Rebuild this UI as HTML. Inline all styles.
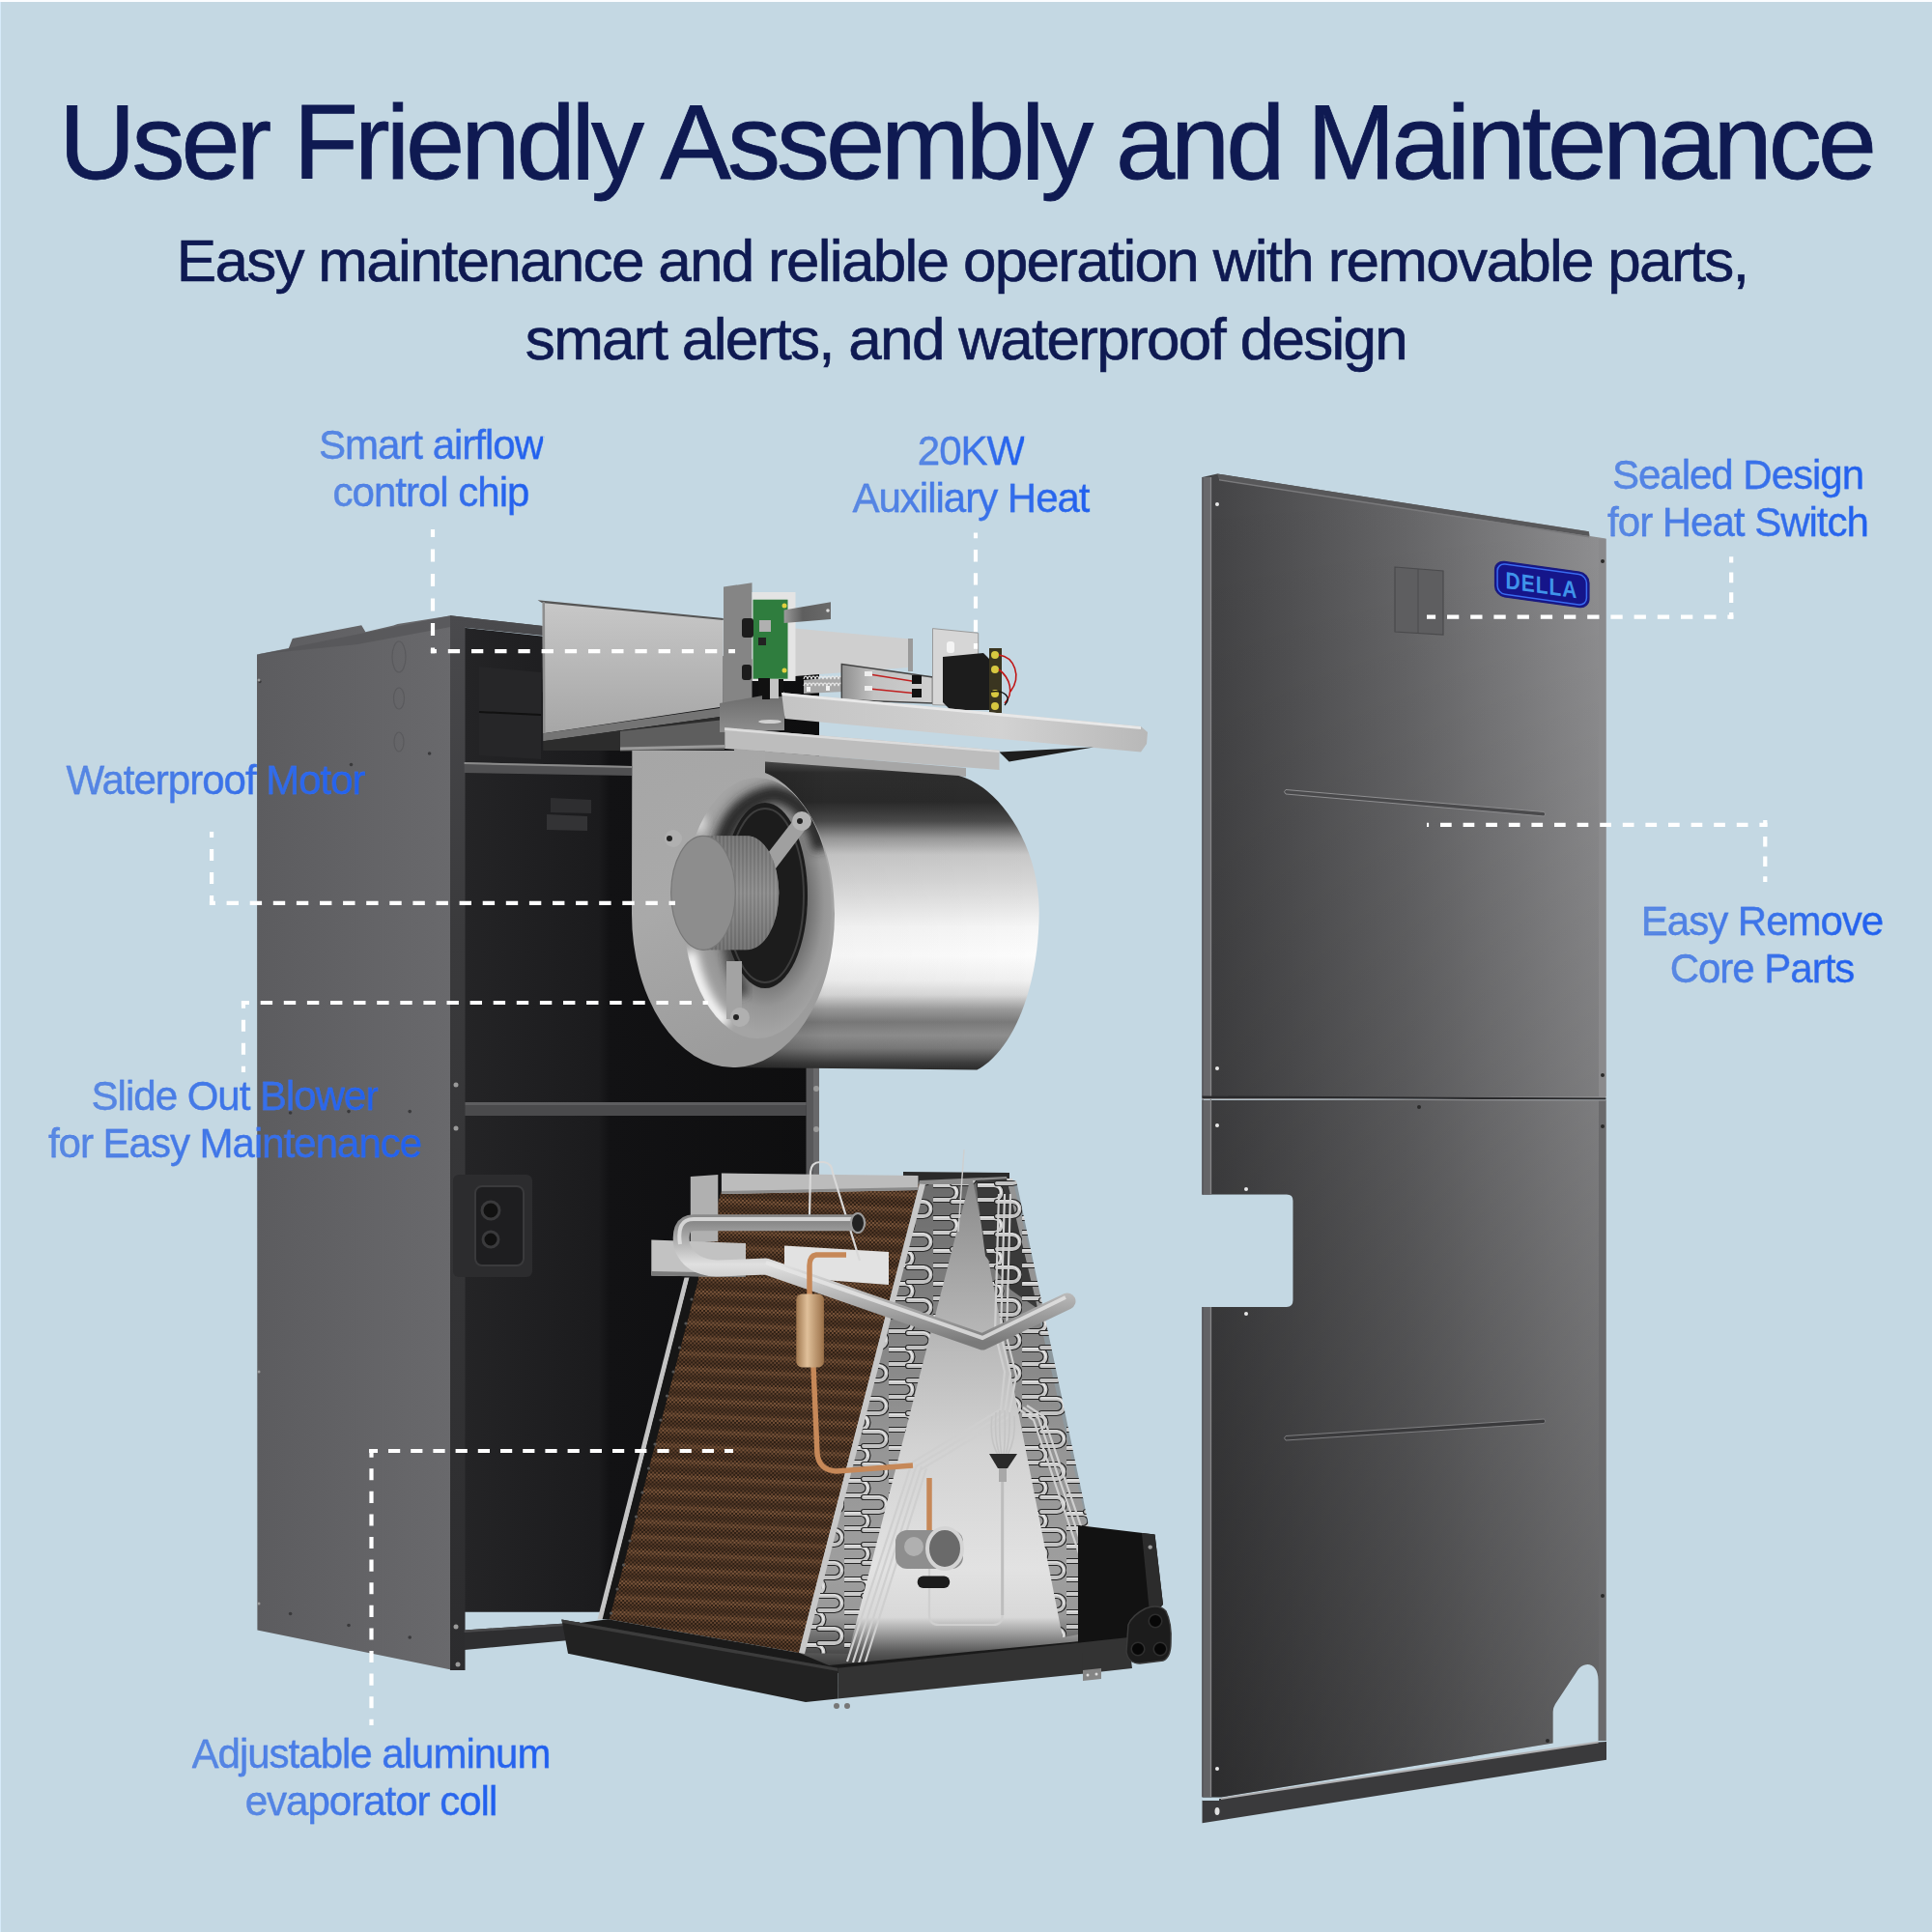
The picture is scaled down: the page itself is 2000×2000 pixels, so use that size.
<!DOCTYPE html>
<html><head><meta charset="utf-8">
<style>
html,body{margin:0;padding:0;}
body{width:2000px;height:2000px;overflow:hidden;background:#C4D8E3;position:relative;font-family:"Liberation Sans",sans-serif;}
#topline{position:absolute;left:0;top:0;width:2000px;height:2px;background:#fbfdff;}
#leftline{position:absolute;left:0;top:2px;width:1px;height:1998px;background:#d6eafa;}
svg#art{position:absolute;left:0;top:0;}
.t{position:absolute;white-space:nowrap;line-height:1;}
#title{color:#0F1A52;font-size:110px;letter-spacing:-4.0px;left:61px;top:91.5px;-webkit-text-stroke:0.8px #0F1A52;}
.sub{color:#0F1A52;font-size:62px;letter-spacing:-1.7px;width:2000px;text-align:center;left:0;-webkit-text-stroke:0.65px #0F1A52;}
.lab{font-size:42px;line-height:48.9px;letter-spacing:-1px;text-align:center;width:600px;}
.lab span{display:inline-block;background:linear-gradient(90deg,#5a89e2,#1f5ff0);-webkit-background-clip:text;background-clip:text;color:transparent;-webkit-text-stroke:0.3px rgba(60,115,230,0.85);}
</style></head>
<body>
<div id="topline"></div><div id="leftline"></div>
<svg id="art" width="2000" height="2000" viewBox="0 0 2000 2000">
<defs>
 <linearGradient id="gSide" x1="0" y1="0" x2="1" y2="0">
  <stop offset="0" stop-color="#5c5c5f"/><stop offset="1" stop-color="#69696c"/>
 </linearGradient>
 <linearGradient id="gInt" x1="0" y1="0" x2="1" y2="0">
  <stop offset="0" stop-color="#242426"/><stop offset="0.38" stop-color="#1b1b1d"/><stop offset="0.41" stop-color="#121214"/><stop offset="1" stop-color="#0e0e0f"/>
 </linearGradient>
 <linearGradient id="gFrame" x1="0" y1="0" x2="0" y2="1">
  <stop offset="0" stop-color="#4a4a4d"/><stop offset="0.3" stop-color="#3a3a3c"/><stop offset="1" stop-color="#2c2c2e"/>
 </linearGradient>
 <linearGradient id="gPanel" x1="0" y1="1" x2="1" y2="0">
  <stop offset="0" stop-color="#2b2b2d"/><stop offset="0.5" stop-color="#555557"/><stop offset="1" stop-color="#909092"/>
 </linearGradient>
 <linearGradient id="gPanelH" gradientUnits="userSpaceOnUse" x1="1250" y1="0" x2="1662" y2="0">
  <stop offset="0" stop-color="#434345"/><stop offset="0.5" stop-color="#666668"/><stop offset="1" stop-color="#919193"/>
 </linearGradient>
 <linearGradient id="gPanelV" gradientUnits="userSpaceOnUse" x1="0" y1="500" x2="0" y2="1860">
  <stop offset="0" stop-color="#000" stop-opacity="0"/><stop offset="0.44" stop-color="#000" stop-opacity="0.12"/><stop offset="1" stop-color="#000" stop-opacity="0.34"/>
 </linearGradient>
 <linearGradient id="gCyl" gradientUnits="userSpaceOnUse" x1="0" y1="788" x2="0" y2="1108"><stop offset="0.000" stop-color="#555555"/><stop offset="0.037" stop-color="#2e2e2e"/><stop offset="0.131" stop-color="#2a2a2a"/><stop offset="0.194" stop-color="#4a4a4a"/><stop offset="0.250" stop-color="#9a9a9a"/><stop offset="0.303" stop-color="#c8c8c8"/><stop offset="0.381" stop-color="#d4d4d4"/><stop offset="0.459" stop-color="#e4e4e4"/><stop offset="0.537" stop-color="#f6f6f6"/><stop offset="0.631" stop-color="#fcfcfc"/><stop offset="0.709" stop-color="#f0f0f0"/><stop offset="0.756" stop-color="#d8d8d8"/><stop offset="0.803" stop-color="#9a9a9a"/><stop offset="0.844" stop-color="#7a7a7a"/><stop offset="0.887" stop-color="#8e8e8e"/><stop offset="0.928" stop-color="#7a7a7a"/><stop offset="0.975" stop-color="#3e3e3e"/><stop offset="1.000" stop-color="#2a2a2a"/></linearGradient>
 <linearGradient id="gCylShade" x1="0" y1="0" x2="1" y2="0">
  <stop offset="0" stop-color="#000" stop-opacity="0.25"/><stop offset="0.3" stop-color="#000" stop-opacity="0.03"/><stop offset="1" stop-color="#000" stop-opacity="0"/>
 </linearGradient>
 <linearGradient id="gFront" x1="0" y1="0" x2="0.3" y2="1">
  <stop offset="0" stop-color="#a6a6a6"/><stop offset="0.5" stop-color="#a9a9a9"/><stop offset="1" stop-color="#9c9c9c"/>
 </linearGradient>
 <radialGradient id="gBell" cx="0.55" cy="0.48" r="0.5">
  <stop offset="0.55" stop-color="#6a6a6a"/><stop offset="0.8" stop-color="#969696"/><stop offset="1" stop-color="#a4a4a4"/>
 </radialGradient>
 <linearGradient id="gBellDark" x1="0.2" y1="0" x2="0.8" y2="1">
  <stop offset="0" stop-color="#1e1e1e"/><stop offset="0.35" stop-color="#4a4a4a"/><stop offset="0.6" stop-color="#8a8a8a"/><stop offset="1" stop-color="#7a7a7a"/>
 </linearGradient>
 <filter id="fBlur" x="-50%" y="-50%" width="200%" height="200%"><feGaussianBlur stdDeviation="5"/></filter>
 <linearGradient id="gMotor" x1="0" y1="0" x2="0" y2="1">
  <stop offset="0" stop-color="#6e6e6e"/><stop offset="0.5" stop-color="#9a9a9a"/><stop offset="1" stop-color="#6a6a6a"/>
 </linearGradient>
 <pattern id="pFins" width="4" height="4" patternUnits="userSpaceOnUse">
  <rect width="4" height="4" fill="#888"/><rect width="2" height="4" fill="#6a6a6a"/>
 </pattern>
 <linearGradient id="gSilverV" x1="0" y1="0" x2="0" y2="1">
  <stop offset="0" stop-color="#c8c8c8"/><stop offset="1" stop-color="#a6a6a6"/>
 </linearGradient>
 <linearGradient id="gTray" x1="0" y1="0" x2="1" y2="0">
  <stop offset="0" stop-color="#c4c4c4"/><stop offset="0.6" stop-color="#d2d2d2"/><stop offset="1" stop-color="#b8b8b8"/>
 </linearGradient>
 <pattern id="pCopper" width="4" height="16" patternUnits="userSpaceOnUse" patternTransform="rotate(3)">
  <rect width="4" height="16" fill="#2c1e14"/>
  <rect x="0" y="0" width="2" height="2" fill="#7a553a"/><rect x="2" y="2" width="2" height="2" fill="#7a553a"/>
  <rect x="0" y="4" width="2" height="2" fill="#704d34"/><rect x="2" y="6" width="2" height="2" fill="#664630"/>
  <rect x="0" y="8" width="2" height="2" fill="#5a3d29"/><rect x="2" y="10" width="2" height="2" fill="#553a27"/>
  <rect x="0" y="12" width="2" height="2" fill="#5c3f2b"/><rect x="2" y="14" width="2" height="2" fill="#6a4830"/>
  <rect x="2" y="0" width="2" height="2" fill="#3e2a1c"/><rect x="0" y="2" width="2" height="2" fill="#3e2a1c"/>
 </pattern>
 <pattern id="pBends" width="46" height="34" patternUnits="userSpaceOnUse">
  <rect width="46" height="34" fill="#3a3a3a" opacity="0.4"/>
  <g fill="none" stroke-linecap="round">
   <path d="M1,3 H17 A7.5,7.5 0 0 1 17,18 H1" stroke="#262626" stroke-width="6.2"/>
   <path d="M1,3 H17 A7.5,7.5 0 0 1 17,18 H1" stroke="#cacaca" stroke-width="3.8"/>
   <path d="M1,2 H17 A8.5,8.5 0 0 1 24,12" stroke="#f0f0f0" stroke-width="1.2"/>
   <path d="M20,20 H36 A7.5,7.5 0 0 1 36,35 H20" stroke="#262626" stroke-width="6.2"/>
   <path d="M20,20 H36 A7.5,7.5 0 0 1 36,35 H20" stroke="#c2c2c2" stroke-width="3.8"/>
   <path d="M20,19 H36 A8.5,8.5 0 0 1 43,29" stroke="#ececec" stroke-width="1.2"/>
   <path d="M20,-14 H36 A7.5,7.5 0 0 1 36,1 H20" stroke="#262626" stroke-width="6.2"/>
   <path d="M20,-14 H36 A7.5,7.5 0 0 1 36,1 H20" stroke="#c2c2c2" stroke-width="3.8"/>
  </g>
 </pattern>
 <linearGradient id="gEnd" x1="0" y1="0" x2="0" y2="1">
  <stop offset="0" stop-color="#8a8a8a"/><stop offset="0.3" stop-color="#b4b4b4"/><stop offset="0.55" stop-color="#d2d2d2"/><stop offset="0.8" stop-color="#e2e2e2"/><stop offset="0.9" stop-color="#d8d8d8"/><stop offset="0.97" stop-color="#5a5a5a"/><stop offset="1" stop-color="#3a3a3a"/>
 </linearGradient>
 <linearGradient id="gPipe" x1="0" y1="0" x2="0" y2="1">
  <stop offset="0" stop-color="#8a8a8a"/><stop offset="0.35" stop-color="#e0e0e0"/><stop offset="1" stop-color="#7a7a7a"/>
 </linearGradient>
 <linearGradient id="gBrass" x1="0" y1="0" x2="1" y2="0">
  <stop offset="0" stop-color="#a07850"/><stop offset="0.4" stop-color="#e0c09a"/><stop offset="1" stop-color="#9a7048"/>
 </linearGradient>
 <linearGradient id="gPan" x1="0" y1="0" x2="0" y2="1">
  <stop offset="0" stop-color="#3a3a3a"/><stop offset="1" stop-color="#262626"/>
 </linearGradient>
<linearGradient id="gHeat" x1="0" y1="0" x2="1" y2="0"><stop offset="0" stop-color="#8e8e8e"/><stop offset="0.35" stop-color="#c2c2c2"/><stop offset="1" stop-color="#cfcfcf"/></linearGradient>
 <linearGradient id="gBar" x1="0" y1="0" x2="1" y2="0"><stop offset="0" stop-color="#9a9a9a"/><stop offset="0.4" stop-color="#5e5e5e"/><stop offset="1" stop-color="#6a6a6a"/></linearGradient>
<clipPath id="cpBell"><ellipse cx="784" cy="940" rx="77" ry="135"/></clipPath>
 <radialGradient id="gBellN" cx="0.5" cy="0.5" r="0.5"><stop offset="0" stop-color="#a0a0a0"/><stop offset="1" stop-color="#a0a0a0"/></radialGradient>
<linearGradient id="gBase" x1="0" y1="0" x2="0" y2="1"><stop offset="0" stop-color="#6a6a6a"/><stop offset="1" stop-color="#8e8e8e"/></linearGradient>
</defs>
<!-- ===== RIGHT PANEL ===== -->
<g id="panel">
 <path id="pUp" d="M1244.5,494 L1260,490.5 L1644.8,550.3 L1646,555 L1662.5,557.6 L1662.5,1137 L1244.5,1136 Z" fill="url(#gPanelH)"/>
 <path id="pLo" d="M1244.5,1139 L1662.5,1139 L1662.5,1802 L1654.6,1802 L1654.6,1740 C1654.6,1728 1649,1723 1643.6,1723 C1638,1723 1634,1727 1631.5,1731.6 L1610,1764 Q1607.6,1768 1607.6,1772 L1607.6,1804.6 L1264,1860.6 L1244.5,1860.6 L1244.5,1353 L1332,1353 Q1338.5,1353 1338.5,1346 L1338.5,1243 Q1338.5,1236.6 1332,1236.6 L1244.5,1236.6 Z" fill="url(#gPanelH)"/>
 <path d="M1244.5,494 L1260,490.5 L1644.8,550.3 L1646,555 L1662.5,557.6 L1662.5,1135 L1244.5,1135 Z" fill="url(#gPanelV)"/>
 <path d="M1244.5,1139 L1662.5,1139 L1662.5,1802 L1654.6,1802 L1654.6,1740 C1654.6,1728 1649,1723 1643.6,1723 C1638,1723 1634,1727 1631.5,1731.6 L1610,1764 Q1607.6,1768 1607.6,1772 L1607.6,1804.6 L1264,1860.6 L1244.5,1860.6 L1244.5,1353 L1332,1353 Q1338.5,1353 1338.5,1346 L1338.5,1243 Q1338.5,1236.6 1332,1236.6 L1244.5,1236.6 Z" fill="url(#gPanelV)"/>
 <rect x="1244.5" y="494" width="9.8" height="641" fill="#68686b"/>
 <rect x="1244.5" y="1139" width="9.8" height="97.6" fill="#646467"/>
 <rect x="1244.5" y="1353" width="9.8" height="507" fill="#626265"/>
 <path d="M1252.8,494 h1.2 v742.6 h-1.2 Z M1252.8,1353 h1.2 v507 h-1.2 Z" fill="#858587"/>
 <path d="M1244.5,494 h1.2 v742.6 h-1.2 Z M1244.5,1353 h1.2 v507 h-1.2 Z" fill="#55555a"/>
 <rect x="1655" y="558" width="7.5" height="577" fill="#8a8a8c"/>
 <rect x="1655" y="1139" width="7.5" height="663" fill="#6a6a6c"/>
 <path d="M1260,490.5 L1644.8,550.3 L1645,555 L1262,496 Z" fill="#58585a"/>
 <path d="M1262,496 L1645,555 L1645,556.5 L1262,497.5 Z" fill="#7a7a7c"/>
 <path d="M1244.5,1134.5 L1662.5,1136.5 L1662.5,1138.5 L1244.5,1137 Z" fill="#2a2a2c"/>
 <path d="M1244.5,1137 L1662.5,1138.5 L1662.5,1139.7 L1244.5,1138.2 Z" fill="#8a8a8c"/>
 <path d="M1244.5,1863.5 L1264,1862 L1654.6,1803.4 L1663,1803 L1663,1821.7 L1244.5,1887.3 Z" fill="#3a3a3c"/>
 <path d="M1264,1861 L1654.6,1802.4 L1654.6,1804.4 L1264,1863 Z" fill="#b0b0b2"/>
 <path d="M1244.5,1861 L1262,1861 L1262,1864 L1244.5,1864 Z" fill="#c4d8e3"/>
 <path d="M1331,817.5 L1598.5,840.5 Q1601,843 1598.5,845 L1331,822 Q1328,819.7 1331,817.5 Z" fill="#4a4a4c" stroke="#8e8e90" stroke-width="1"/>
 <path d="M1331,1486.5 L1598.5,1469 Q1601,1471 1598.5,1473.5 L1331,1491 Q1328,1488.8 1331,1486.5 Z" fill="#3a3a3c" stroke="#7e7e80" stroke-width="1"/>
 <path d="M1444,587 L1494,591 L1494,657 L1444,654 Z" fill="#5e5e60" stroke="#4a4a4c" stroke-width="1.2"/>
 <path d="M1468,589 L1468,655" stroke="#4a4a4c" stroke-width="1"/>
 <g fill="#e8e8e8"><circle cx="1260" cy="522" r="2"/><circle cx="1260" cy="1106" r="2"/><circle cx="1260" cy="1165" r="2"/><circle cx="1290" cy="1231" r="2"/><circle cx="1290" cy="1360" r="2"/><circle cx="1260" cy="1831" r="2"/></g>
 <g fill="#2a2a2a"><circle cx="1659" cy="581" r="2"/><circle cx="1659" cy="1113" r="2"/><circle cx="1659" cy="1166" r="2"/><circle cx="1659" cy="1652" r="2"/><circle cx="1469" cy="1146" r="2"/><circle cx="1602" cy="1802" r="2"/></g>
 <ellipse cx="1260" cy="1875" rx="2.5" ry="4" fill="#e0e0e0"/>
 <!-- logo -->
 <g transform="matrix(1,0.138,0,1,1547.5,580)">
  <rect x="0" y="0" width="97.5" height="36.5" rx="10" fill="#15158a" stroke="#1b1b7e" stroke-width="1.2"/><rect x="2.6" y="2.6" width="92.3" height="31.3" rx="8" fill="none" stroke="#3a6cf0" stroke-width="1.5"/>
  <text x="48.5" y="27.5" text-anchor="middle" font-family="Liberation Sans" font-weight="bold" font-size="24.5" fill="#3f93ea" letter-spacing="1.2" textLength="75" lengthAdjust="spacingAndGlyphs">DELLA</text>
 </g>
</g>
<!-- ===== CABINET ===== -->
<g id="cabinet">
 <path d="M266,677.6 L298.7,671.4 L302.8,661 L374.2,647.2 L378.4,654.2 L407.3,647.6 L411.5,646 L467,637.3 L467,1728.6 L266.4,1687.6 Z" fill="url(#gSide)"/>
 <path d="M266,677.6 L466.4,637.3 L466.4,649 L370,667 Z" fill="#545457" opacity="0.7"/>
 <!-- interior -->
 <path d="M480,649.7 L848,690 L848,1668.8 L480,1668.8 Z" fill="url(#gInt)"/>
 <path d="M496,690 L560,696 L560,786 L496,782 Z" fill="#262628"/>
 <path d="M496,737 L560,740" stroke="#111" stroke-width="2"/>
 <rect x="480.6" y="1141" width="354" height="14" fill="#4a4a4c"/>
 <rect x="480.6" y="1141" width="354" height="3" fill="#5e5e60"/>
 <rect x="834.5" y="1090" width="13.5" height="578" fill="#58585a"/>
 <rect x="842" y="1090" width="6" height="578" fill="#68686a"/>
 <!-- top rail -->
 <path d="M466.4,637.3 L562,648 L562,658 L481.5,649.7 L481.5,1729 L466,1729 L466,637.3 Z" fill="url(#gFrame)"/>
 <path d="M466.4,637.3 L562,648 L562,652 L466.4,641 Z" fill="#4a4a4d"/>
 <path d="M570,826 L612,828 L612,842 L570,841 Z" fill="#2e2e30"/>
 <path d="M566,843 L608,845 L608,860 L566,859 Z" fill="#333335"/>
 <!-- e-box -->
 <rect x="469" y="1216" width="82" height="106" rx="6" fill="#2c2c2e"/>
 <rect x="492" y="1228" width="50" height="82" rx="7" fill="#1e1e20" stroke="#3a3a3c" stroke-width="2"/>
 <circle cx="508" cy="1253" r="9" fill="#111" stroke="#3a3a3c" stroke-width="3"/>
 <circle cx="508" cy="1283" r="8" fill="#111" stroke="#3a3a3c" stroke-width="3"/>
 <!-- bottom rail -->
 <path d="M480.6,1687.6 L600,1679.5 L600,1697 L480.6,1708 Z" fill="#2e2e30"/>
 <path d="M480.6,1687.6 L600,1679.5 L600,1682 L480.6,1690 Z" fill="#4a4a4c"/>
 <!-- side screws -->
 <g fill="#3a3a3c"><circle cx="300.6" cy="1152" r="1.8"/><circle cx="361" cy="1150.6" r="1.8"/><circle cx="424.2" cy="1150.6" r="1.8"/>
  <circle cx="300.6" cy="1670.5" r="1.8"/><circle cx="361" cy="1682.5" r="1.8"/><circle cx="424.2" cy="1695" r="1.8"/>
  <circle cx="363.5" cy="791.5" r="1.8"/><circle cx="444.6" cy="780" r="1.8"/><circle cx="269" cy="705.6" r="1.6"/></g>
 <g fill="none" stroke="#5a5a5d" stroke-width="1.2"><ellipse cx="413" cy="680" rx="7" ry="16"/><ellipse cx="413" cy="723" rx="5.5" ry="11"/><ellipse cx="413" cy="768" rx="5" ry="10"/></g>
 <!-- screws -->
 <g fill="#9a9a9a">
  <circle cx="472" cy="1123" r="2.5"/><circle cx="472" cy="1168" r="2.5"/><circle cx="472" cy="1684" r="2.5"/><circle cx="474" cy="1723" r="2.5"/>
  <circle cx="268" cy="704" r="1.5"/><circle cx="268" cy="1420" r="1.5"/><circle cx="268" cy="1660" r="1.5"/>
  <circle cx="845" cy="1127" r="3"/><circle cx="845" cy="1169" r="3"/>
 </g>
</g>
<!-- ===== CONTROL BOX ===== -->
<g id="ctrl">
 <path d="M556.6,621.2 L748.7,640.6 L748.7,731.6 L562.2,759.2 L561.5,623 Z" fill="url(#gSilverV)"/>
 <path d="M556.6,621.2 L748.7,640 L748.7,642 L561,624 Z" fill="#555"/>
 <path d="M561.5,623 L564,623.3 L564.5,759 L562.2,759.2 Z" fill="#8e8e8e"/>
 <path d="M562.2,759.2 L795.7,725.6 L795.7,735 L562.2,767.3 Z" fill="#747474"/>
 <path d="M562.2,767.3 L795.7,735 L795.7,745 L642,760 L642,777 L562.2,777 Z" fill="#2c2c2c"/>
 <path d="M642,757 L750,745 L750,776 L642,777.5 Z" fill="#5e5e5e"/>
 <path d="M642,773.5 L750,771 L750,774 L642,776.5 Z" fill="#9a9a9a"/>
 <path d="M480.6,789 L654,793 L654,803 L480.6,800 Z" fill="#505052"/>
 <path d="M480.6,789 L654,793 L654,795 L480.6,791 Z" fill="#8a8a8a"/>
 <!-- right part of box -->
 <path d="M822.5,650.6 L940.3,661.3 L940.3,691 L822.5,700 Z" fill="#cfcfcf"/>
 <rect x="940" y="661" width="5" height="34" fill="#9a9a9a"/>
 <!-- PCB bracket -->
 <path d="M749,607.5 L778.5,603.3 L778.5,727.5 L749,730.8 Z" fill="#858585"/>
 <rect x="778.5" y="613" width="45" height="92" fill="#e4e4e4"/>
 <rect x="779.5" y="620.7" width="36" height="82" fill="#2f7d3e"/>
 <rect x="786" y="642" width="12" height="12" fill="#b0b0b0"/>
 <rect x="785" y="660" width="8" height="8" fill="#222"/>
 <rect x="768" y="640" width="12" height="20" rx="3" fill="#1c1c1c"/>
 <rect x="768" y="688" width="10" height="16" rx="3" fill="#1c1c1c"/>
 <rect x="785" y="702" width="8" height="22" fill="#111"/>
 <rect x="793" y="703" width="14" height="20" fill="#bdbdbd"/>
 <circle cx="812" cy="627" r="2.5" fill="#e0d040"/><circle cx="812" cy="694" r="2.5" fill="#e0d040"/>
 <path d="M811.6,631.5 L860,623.2 L860,641 L811.6,645 Z" fill="url(#gBar)"/><circle cx="857" cy="632" r="1.8" fill="#ddd"/>
 <!-- heater -->
 <path d="M832,704 L873,700 L873,716 L832,718 Z" fill="#a8a8a8"/>
 <g fill="none" stroke="#e8e8e8" stroke-width="1.1">
  <path d="M832,703 c1,-4 3,-4 4,0 c1,-4 3,-4 4,0 c1,-4 3,-4 4,0 c1,-4 3,-4 4,0 c1,-4 3,-4 4,0 c1,-4 3,-4 4,0 c1,-4 3,-4 4,0 c1,-4 3,-4 4,0 c1,-4 3,-4 4,0 c1,-4 3,-4 4,0"/>
  <path d="M832,710 c1,-4 3,-4 4,0 c1,-4 3,-4 4,0 c1,-4 3,-4 4,0 c1,-4 3,-4 4,0 c1,-4 3,-4 4,0 c1,-4 3,-4 4,0 c1,-4 3,-4 4,0 c1,-4 3,-4 4,0 c1,-4 3,-4 4,0 c1,-4 3,-4 4,0"/>
 </g>
 <rect x="835" y="711" width="4" height="5" fill="#f2f2f2"/><rect x="855" y="710" width="4" height="5" fill="#f2f2f2"/>
 <path d="M871.3,687.6 L965.5,701 L965.5,728 L871.3,724.6 Z" fill="url(#gHeat)" stroke="#444" stroke-width="1.5"/>
 <path d="M900,698 L950,706 M900,713 L950,718" stroke="#c02020" stroke-width="1.5"/>
 <rect x="895" y="695" width="8" height="5" fill="#eee"/><rect x="895" y="710" width="8" height="5" fill="#eee"/>
 <rect x="944" y="699" width="10" height="9" fill="#111"/><rect x="944" y="713" width="10" height="9" fill="#111"/>
 <path d="M965.5,650.6 L1012.7,655.3 L1012.7,731.3 L965.5,729.6 Z" fill="#d6d6d6" stroke="#9a9a9a" stroke-width="1"/>
 <rect x="980" y="664" width="8" height="12" rx="3" fill="#f4f4f4"/>
 <path d="M976,680 L1018,676 L1026,684 L1026,735 L984,735 L976,727 Z" fill="#1c1c1c"/>
 <rect x="1024" y="671" width="13" height="67" fill="#3a3520"/>
 <circle cx="1030" cy="678" r="4" fill="#d8c840"/><circle cx="1030" cy="693" r="4" fill="#d8c840"/><circle cx="1030" cy="718" r="4" fill="#d8c840"/><circle cx="1030" cy="731" r="4" fill="#d8c840"/>
 <path d="M1034,678 C1050,680 1058,700 1046,716 M1034,693 C1046,702 1050,718 1040,728" stroke="#c01818" stroke-width="1.6" fill="none"/>
 <path d="M1026,716 C1040,714 1048,722 1040,730" stroke="#111" stroke-width="1.4" fill="none"/>
 <path d="M745,728 L812,716 L812,756 L745,758 Z" fill="url(#gBase)"/>
 <rect x="789" y="702" width="8" height="22" fill="#111"/><rect x="797" y="703" width="9" height="20" fill="#c4c4c4"/><rect x="806" y="703" width="5" height="18" fill="#111"/>
 <ellipse cx="797" cy="747" rx="12" ry="2" fill="#d0d0d0"/>
 <!-- tray -->
 <path d="M809,717 L1181,752 L1188,758 L1187,770 L1181,778.4 L812.5,744 Z" fill="url(#gTray)"/>
 <path d="M809,717 L1181,752 L1181,755 L810,720 Z" fill="#e8e8e8"/>
 <path d="M1034.5,778.4 L1132,773.4 L1044.6,788.5 Z" fill="#1e1e1e"/>
 <!-- blower mount bracket -->
 <path d="M750.2,753.2 L1034.5,776.7 L1034.5,797 L750.2,775 Z" fill="#bdbdbd"/>
 <path d="M750.2,753.2 L1034.5,776.7 L1034.5,779 L750.2,756 Z" fill="#dcdcdc"/>
 <path d="M760,775 L1000,795 L1000,804 L760,790 Z" fill="#a6a6a6"/>
</g>
<!-- ===== BLOWER ===== -->
<g id="blower">
 <path d="M792,788.6 L992.4,802.9 C1030,812 1076,870 1075.7,945 C1075,1030 1045,1090 1011.4,1107.6 L760,1105 Z" fill="url(#gCyl)"/>
 <path d="M792,788.6 L992.4,802.9 C1030,812 1076,870 1075.7,945 C1075,1030 1045,1090 1011.4,1107.6 L760,1105 Z" fill="url(#gCylShade)"/>
 <path d="M654.3,777 L792,777 L792,800 C830,815 864,870 864,946 A105,159 0 0 1 654,946 Z" fill="url(#gFront)"/>
 <ellipse cx="784" cy="940" rx="77" ry="135" fill="url(#gBell)"/>
 <g clip-path="url(#cpBell)">
  <path d="M745,885 Q755,830 800,822 Q838,826 850,880" stroke="#2a2a2a" stroke-width="18" fill="none" filter="url(#fBlur)"/>
  <path d="M752,900 Q752,1000 770,1030" stroke="#3a3a3a" stroke-width="12" fill="none" filter="url(#fBlur)"/>
  <ellipse cx="724" cy="852" rx="7" ry="11" fill="#e8e8e8" opacity="0.8" filter="url(#fBlur)"/>
  <path d="M714,985 Q724,1035 752,1060" stroke="#ffffff" stroke-width="13" fill="none" opacity="0.95" filter="url(#fBlur)"/>
 </g>
 <ellipse cx="792" cy="927" rx="44" ry="96" fill="#1c1c1c"/>
 <ellipse cx="792" cy="927" rx="40" ry="90" fill="none" stroke="#3e3e3e" stroke-width="2"/>
 <!-- struts -->
 <path d="M788,892 L826,843 L838,853 L800,903 Z" fill="#a0a0a0"/>
 <path d="M752,995 L768,995 L768,1055 L752,1055 Z" fill="#a3a3a3"/>
 <circle cx="830" cy="850" r="10" fill="#b4b4b4"/><circle cx="828" cy="850" r="3" fill="#222"/>
 <circle cx="766" cy="1053" r="10" fill="#b0b0b0"/><circle cx="762" cy="1053" r="3" fill="#222"/>
 <circle cx="697" cy="868" r="9" fill="#b0b0b0"/><circle cx="693" cy="868" r="3" fill="#222"/>
 <!-- motor -->
 <path d="M728,865.3 L773,865.3 A33.3,59 0 0 1 773,983.3 L728,983.3 Z" fill="url(#pFins)"/>
 <path d="M728,865.3 L773,865.3 A33.3,59 0 0 1 773,983.3 L728,983.3 Z" fill="url(#gMotor)" opacity="0.55"/>
 <ellipse cx="728" cy="924.3" rx="33.3" ry="59" fill="#8d8d8d"/>
 <ellipse cx="728" cy="924.3" rx="33.3" ry="59" fill="none" stroke="#777" stroke-width="1.2"/>
</g>
<!-- ===== COIL ===== -->
<g id="coil">
 <!-- dark top behind -->
 <path d="M935,1213 L1045,1214 L1045,1232 L935,1232 Z" fill="#2a2a2a"/>
 <!-- end plate -->
 <path d="M951.9,1222 L1042,1218 L1149.5,1683.2 L1114.9,1700.6 L858.2,1724.9 L823.6,1711 Z" fill="url(#gEnd)"/>
 <path d="M1010,1222 L1044,1220 L1076,1356 L1046,1335 L1020,1300 Z" fill="#3a3a3a"/>
 <path d="M1042,1220 L1048,1220 L1081,1358 L1075,1358 Z" fill="#d0d0d0"/>
 <!-- tube bands -->
 <path d="M955,1226 L1003,1226 L878,1712 L827,1711 Z" fill="url(#pBends)"/>
 <path d="M1007,1222 L1052,1222 L1149.5,1686 L1100,1695 Z" fill="url(#pBends)"/>
 <!-- distributor tubes -->
 <g stroke="#cfcfcf" stroke-width="2.2" fill="none">
  <path d="M944,1514 L1036,1459 L1040,1420 L1030,1380 L1034,1236"/>
  <path d="M948,1518 L1040,1463 L1046,1422 L1036,1382 L1040,1236"/>
  <path d="M952,1522 L1044,1467 L1052,1424 L1042,1384 L1046,1236"/>
  <path d="M1055,1459 L1070,1470 L1141,1679"/><path d="M1059,1457 L1075,1468 L1146,1676"/><path d="M1063,1455 L1080,1466 L1151,1673"/>
  <path d="M944,1514 L877,1720"/><path d="M949,1516 L883,1721"/><path d="M954,1518 L889,1722"/><path d="M959,1520 L895,1723"/>
  <path d="M1037.7,1538 L1037.7,1672 Q1037.7,1682 1028,1682 L972,1682 Q962,1682 962,1672 L962,1623"/>
 </g>
 <g stroke="#c4c4c4" stroke-width="1.6" fill="none">
  <path d="M1027,1466 Q1024,1490 1033,1506"/><path d="M1031,1462 Q1029,1490 1035,1506"/><path d="M1035,1460 Q1034,1490 1037,1506"/>
  <path d="M1040,1460 Q1041,1490 1039,1506"/><path d="M1045,1462 Q1046,1490 1041,1506"/><path d="M1050,1466 Q1052,1490 1043,1506"/>
 </g>
 <path d="M1024,1505 L1053,1505 L1043,1520 L1033,1520 Z" fill="#2a2a2a"/>
 <rect x="1034" y="1520" width="8" height="14" fill="#a8a8a8"/>
 <path d="M1037.7,1534 L1037.7,1672" stroke="#bdbdbd" stroke-width="3"/>
 <!-- TXV -->
 <rect x="927" y="1584" width="70" height="40" rx="12" fill="#8e8e8e"/>
 <ellipse cx="978" cy="1603" rx="18" ry="21" fill="#6a6a6a" stroke="#d4d4d4" stroke-width="4"/>
 <circle cx="946" cy="1601" r="10" fill="#b0b0b0"/>
 <rect x="949.7" y="1631.6" width="33.5" height="12.4" rx="6" fill="#1c1c1c"/>
 <!-- copper face -->
 <path d="M746.2,1234.2 L951.9,1225.5 L827,1711 L629.4,1676.3 Z" fill="url(#pCopper)"/>
 <path d="M708.5,1322.6 L713.8,1322.6 L623.9,1676.3 L618.6,1676.3 Z" fill="#c4c4c4"/>
 <path d="M713.5,1322.6 L723.5,1322.6 L630.8,1676.3 L623.6,1676.3 Z" fill="#161616"/>
 <g fill="#555"><circle cx="716" cy="1345" r="1.6"/><circle cx="710" cy="1370" r="1.6"/><circle cx="703.5" cy="1395" r="1.6"/><circle cx="697" cy="1420" r="1.6"/><circle cx="690.5" cy="1445" r="1.6"/><circle cx="684" cy="1470" r="1.6"/><circle cx="678" cy="1495" r="1.6"/><circle cx="671.5" cy="1520" r="1.6"/><circle cx="665" cy="1545" r="1.6"/><circle cx="658.5" cy="1570" r="1.6"/><circle cx="652" cy="1595" r="1.6"/><circle cx="645.5" cy="1620" r="1.6"/><circle cx="639" cy="1645" r="1.6"/><circle cx="632.5" cy="1670" r="1.6"/></g>
 <path d="M951.9,1225.5 L958,1226 L833,1712 L827,1711 Z" fill="#c8c8c8"/>
 <!-- top cap -->
 <path d="M746.9,1214.5 L950.5,1216.9 L950.5,1232 L746.9,1236 Z" fill="#bcbcbc"/>
 <path d="M746.9,1233 L950.5,1229 L950.5,1232 L746.9,1236 Z" fill="#8a8a8a"/>
 <path d="M714.8,1218 L743.3,1216 L743.3,1285 L714.8,1287 Z" fill="#b0b0b0"/>
 <path d="M674.3,1283.6 L772,1287 L772,1322 L674.3,1320.5 Z" fill="#c2c2c2"/>
 <path d="M674.3,1316 L772,1318 L772,1322 L674.3,1320.5 Z" fill="#7a7a7a"/>
 <path d="M812,1289.5 L920,1296 L920,1330 L812,1322 Z" fill="#e2e2e2"/>
 <!-- wires -->
 <path d="M838,1258 L839,1213 Q840,1203 849,1203 L853,1203 Q861,1204 862,1214 L890,1305" stroke="#d8d8d8" stroke-width="2.2" fill="none"/>
 <path d="M998,1190 L992,1275" stroke="#cfcfcf" stroke-width="1.4" fill="none"/>
 <!-- suction pipe -->
 <path d="M888,1265.7 L718,1265.7 Q702,1266 706,1290 Q714,1312 742,1313 L793,1311 L1017,1389 L1105,1347" stroke="url(#gPipe)" stroke-width="17" fill="none" stroke-linejoin="round" stroke-linecap="round"/>
 <path d="M888,1262 L718,1262 Q700,1262 704,1288 M793,1307 L1017,1385 L1103,1343" stroke="#e6e6e6" stroke-width="4" fill="none" opacity="0.8"/>
 <ellipse cx="888" cy="1266" rx="7" ry="10" fill="#222" stroke="#9a9a9a" stroke-width="2"/>
 <!-- copper line -->
 <path d="M876,1299 L845,1299 Q838,1300 838,1310 L838,1340 M842,1415 L846,1505 Q848,1522 866,1523 L945,1517 M962,1530 L962,1584" stroke="#c68858" stroke-width="5.5" fill="none"/>
 <rect x="824.3" y="1339.5" width="28.6" height="76" rx="6" fill="url(#gBrass)"/>
 <!-- dark band under coil -->
 <path d="M629.4,1676.3 L827,1711 L858,1724 L1118,1699 L1118,1712 L867.4,1732 L585,1682 Z" fill="#1a1a1a"/>
 <!-- drain pan -->
 <path d="M1116,1579 L1195.5,1588.4 L1204,1661 L1190,1676 L1170,1698 L1116,1704 Z" fill="#121212"/>
 <path d="M1182,1587 L1195.5,1588.4 L1204,1661 L1190,1670 Z" fill="#2c2c2c"/>
 <circle cx="1190.7" cy="1601.6" r="2.2" fill="#9a9a9a"/>
 <path d="M1120,1700.3 L1168,1695 L1172,1727 L1120,1732.7 Z" fill="#333"/>
 <path d="M1121,1729 L1140,1727 L1140,1738 L1121,1740 Z" fill="#858585"/>
 <circle cx="1126" cy="1734" r="1.5" fill="#ddd"/><circle cx="1135" cy="1733" r="1.5" fill="#ddd"/>
 <path d="M1168,1682 Q1172,1672 1186,1665 Q1200,1660 1207,1668 Q1213,1680 1212,1700 Q1212,1716 1204,1719 L1180,1722 Q1168,1722 1166,1710 Z" fill="#1c1c1c" stroke="#3a3a3a" stroke-width="1.5"/>
 <g fill="#070707" stroke="#2e2e2e" stroke-width="1.6"><circle cx="1196" cy="1678" r="6.8"/><circle cx="1178" cy="1707" r="6.8"/><circle cx="1201" cy="1707" r="6.8"/></g>
 <path d="M581.4,1676.4 L867.4,1726.7 L867.4,1758.4 L834,1762 L588,1711.8 Z" fill="#222"/>
 <path d="M581.4,1676.4 L867.4,1726.7 L867.4,1730 L582,1680 Z" fill="#3c3c3c"/>
 <path d="M867.4,1726.7 L1120.3,1700.3 L1120.3,1732.7 L867.4,1758.4 Z" fill="#333"/>
 <circle cx="866" cy="1766" r="3" fill="#777"/><circle cx="877" cy="1766" r="3" fill="#777"/>
</g>
<g id="dashes" stroke="#ffffff" stroke-width="4.2" fill="none">
 <path d="M448,676.3 L448,548.0" stroke-dasharray="13.0 12.5" stroke-dashoffset="7.1"/>
 <path d="M445.9,674.2 L761,674.2" stroke-dasharray="12.3 11.9" stroke-dashoffset="6.3"/>
 <path d="M1010,671.7 L1010,551.6" stroke-dasharray="12.3 11.9" stroke-dashoffset="6.5"/>
 <path d="M1792.2,640.4 L1792.2,576.2" stroke-dasharray="10.6 10.1" stroke-dashoffset="4.2"/>
 <path d="M1794.4,638.6 L1477,638.6" stroke-dasharray="12.3 11.9" stroke-dashoffset="6.3"/>
 <path d="M1829.5,853.9 L1477,853.9" stroke-dasharray="11.7 11.9" stroke-dashoffset="3.6"/>
 <path d="M1827.3,849.1 L1827.3,913" stroke-dasharray="10.5 10.2" stroke-dashoffset="3.9"/>
 <path d="M219.1,937 L219.1,861" stroke-dasharray="12.1 11.9" stroke-dashoffset="2.1"/>
 <path d="M216.9,934.9 L699,934.9" stroke-dasharray="12.4 11.7" stroke-dashoffset="6.4"/>
 <path d="M252,1036.2 L252,1110" stroke-dasharray="12.1 11.9" stroke-dashoffset="4.5"/>
 <path d="M249.9,1038 L733,1038" stroke-dasharray="12.4 11.7" stroke-dashoffset="4.3"/>
 <path d="M384.5,1500 L384.5,1786" stroke-dasharray="12.1 11.5" stroke-dashoffset="3.4"/>
 <path d="M382.1,1502 L759,1502" stroke-dasharray="12.2 11.0" stroke-dashoffset="3.3"/>
</g>
</svg>
<div class="t" id="title">User Friendly Assembly and Maintenance</div>
<div class="t sub" style="top:239px;left:-4px">Easy maintenance and reliable operation with removable parts,</div>
<div class="t sub" style="top:319.5px">smart alerts, and waterproof design</div>
<div class="t lab" style="left:146px;top:436.9px"><span>Smart airflow</span><br><span>control chip</span></div>
<div class="t lab" style="left:705px;top:443.4px"><span>20KW</span><br><span>Auxiliary Heat</span></div>
<div class="t lab" style="left:1499px;top:467.9px"><span>Sealed Design</span><br><span>for Heat Switch</span></div>
<div class="t lab" style="left:-77px;top:784.4px"><span>Waterproof Motor</span></div>
<div class="t lab" style="left:1524px;top:929.9px"><span>Easy Remove</span><br><span>Core Parts</span></div>
<div class="t lab" style="left:-57px;top:1111.4px"><span>Slide Out Blower</span><br><span>for Easy Maintenance</span></div>
<div class="t lab" style="left:84px;top:1792.4px"><span>Adjustable aluminum</span><br><span>evaporator coll</span></div>
</body></html>
